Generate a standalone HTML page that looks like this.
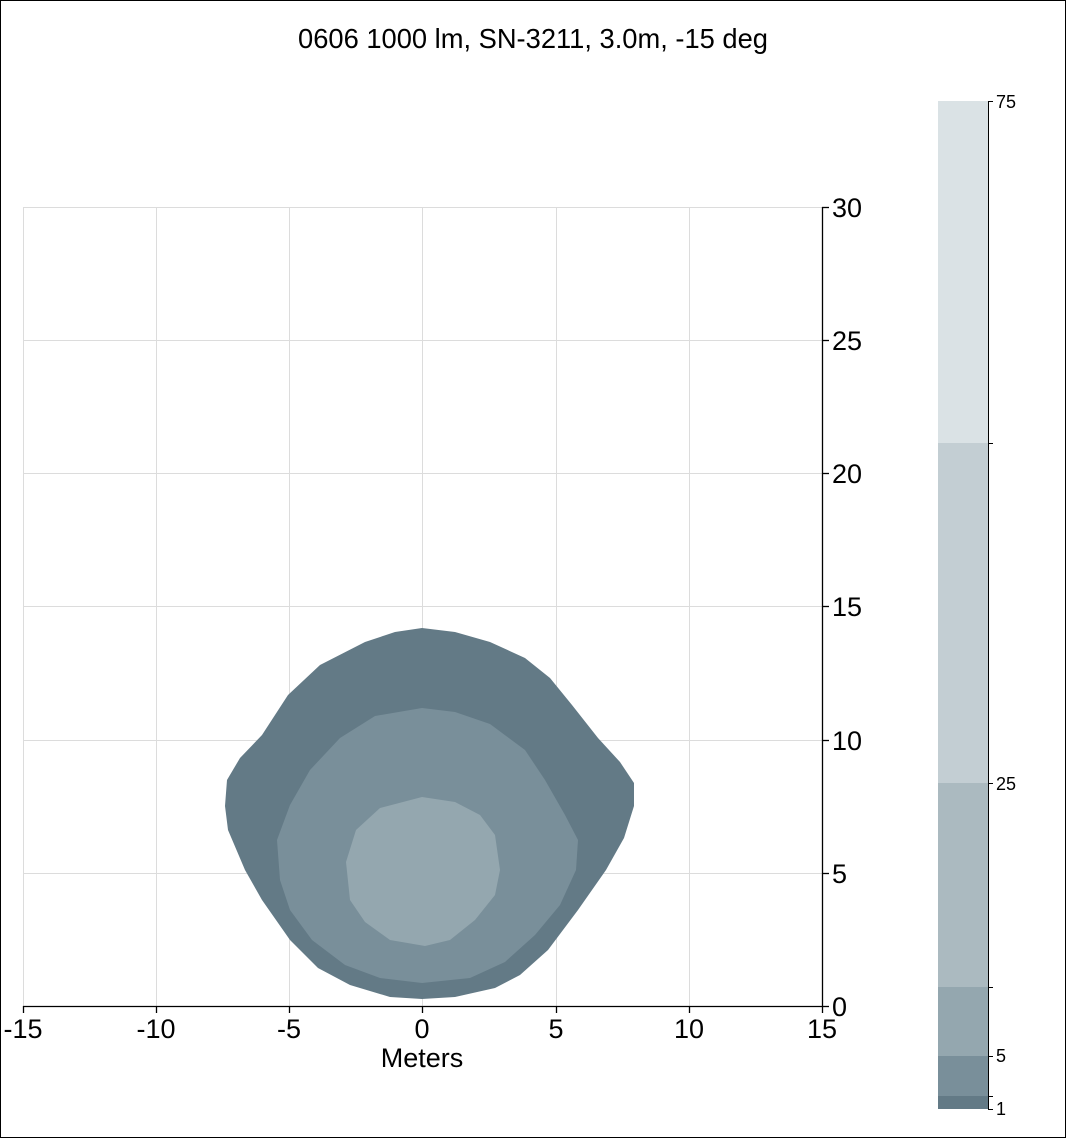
<!DOCTYPE html><html><head><style>body{margin:0;background:#fff}svg{display:block}text{font-family:"Liberation Sans",Arial,sans-serif}</style></head><body>
<svg width="1066" height="1138" xmlns="http://www.w3.org/2000/svg">
<rect x="0.5" y="0.5" width="1065" height="1137" fill="#fff" stroke="#000"/>
<text x="533" y="48" font-size="27.3" text-anchor="middle">0606 1000 lm, SN-3211, 3.0m, -15 deg</text>
<g stroke="#dcdcdc" stroke-width="1">
<line x1="23" y1="207.5" x2="822" y2="207.5"/><line x1="23" y1="340.5" x2="822" y2="340.5"/><line x1="23" y1="473.5" x2="822" y2="473.5"/><line x1="23" y1="606.5" x2="822" y2="606.5"/><line x1="23" y1="740.5" x2="822" y2="740.5"/><line x1="23" y1="873.5" x2="822" y2="873.5"/>
<line x1="23.5" y1="207" x2="23.5" y2="1006"/><line x1="156.5" y1="207" x2="156.5" y2="1006"/><line x1="289.5" y1="207" x2="289.5" y2="1006"/><line x1="422.5" y1="207" x2="422.5" y2="1006"/><line x1="556.5" y1="207" x2="556.5" y2="1006"/><line x1="689.5" y1="207" x2="689.5" y2="1006"/>
</g>
<polygon fill="#637a86" points="422,628 455,632 490,642 525,658 550,678 572,705 598,738 620,762 634,783 634,806 624,838 606,870 578,910 548,950 520,975 495,988 455,997 422,999 390,997 350,985 318,968 290,940 262,900 245,870 228,830 225,806 227,780 240,758 262,735 288,695 320,665 365,642 395,632"/>
<polygon fill="#798f9a" points="422,708 455,712 490,724 525,750 545,780 565,815 578,840 576,870 560,905 535,935 505,962 470,978 422,983 380,978 345,965 312,940 290,910 280,880 277,840 290,805 310,770 340,738 375,716"/>
<polygon fill="#94a7af" points="422,797 455,802 480,815 495,835 500,870 495,895 475,920 450,940 425,946 390,940 365,922 350,900 346,862 356,830 380,808"/>
<g stroke="#000" stroke-width="1.3">
<line x1="23" y1="1006.5" x2="822" y2="1006.5"/><line x1="822.5" y1="207" x2="822.5" y2="1006"/>
<line x1="23.5" y1="1006" x2="23.5" y2="1013"/><line x1="156.5" y1="1006" x2="156.5" y2="1013"/><line x1="289.5" y1="1006" x2="289.5" y2="1013"/><line x1="422.5" y1="1006" x2="422.5" y2="1013"/><line x1="556.5" y1="1006" x2="556.5" y2="1013"/><line x1="689.5" y1="1006" x2="689.5" y2="1013"/><line x1="822.5" y1="1006" x2="822.5" y2="1013"/>
<line x1="822" y1="207.5" x2="829" y2="207.5"/><line x1="822" y1="340.5" x2="829" y2="340.5"/><line x1="822" y1="473.5" x2="829" y2="473.5"/><line x1="822" y1="606.5" x2="829" y2="606.5"/><line x1="822" y1="740.5" x2="829" y2="740.5"/><line x1="822" y1="873.5" x2="829" y2="873.5"/><line x1="822" y1="1006.5" x2="829" y2="1006.5"/>
</g>
<g font-size="27" text-anchor="middle">
<text x="23" y="1038">-15</text><text x="156" y="1038">-10</text><text x="289" y="1038">-5</text><text x="422" y="1038">0</text><text x="556" y="1038">5</text><text x="689" y="1038">10</text><text x="822" y="1038">15</text>
<text x="422" y="1067">Meters</text>
</g>
<g font-size="27">
<text x="832" y="217">30</text><text x="832" y="350">25</text><text x="832" y="483">20</text><text x="832" y="616">15</text><text x="832" y="750">10</text><text x="832" y="883">5</text><text x="832" y="1016">0</text>
</g>
<rect x="938" y="101" width="50" height="342" fill="#dae2e5"/>
<rect x="938" y="443" width="50" height="340" fill="#c3ced3"/>
<rect x="938" y="783" width="50" height="204" fill="#abbac0"/>
<rect x="938" y="987" width="50" height="69" fill="#94a7af"/>
<rect x="938" y="1056" width="50" height="40" fill="#798f9a"/>
<rect x="938" y="1096" width="50" height="13" fill="#637a86"/>
<g stroke="#000" stroke-width="1">
<line x1="988.5" y1="101" x2="988.5" y2="1109"/>
<line x1="988" y1="101.5" x2="993" y2="101.5"/><line x1="988" y1="443.5" x2="993" y2="443.5"/><line x1="988" y1="783.5" x2="993" y2="783.5"/><line x1="988" y1="987.5" x2="993" y2="987.5"/><line x1="988" y1="1056.5" x2="993" y2="1056.5"/><line x1="988" y1="1096.5" x2="993" y2="1096.5"/><line x1="988" y1="1109.5" x2="993" y2="1109.5"/>
</g>
<g font-size="18">
<text x="996" y="108">75</text><text x="996" y="790">25</text><text x="996" y="1062">5</text><text x="996" y="1115">1</text>
</g>
</svg></body></html>
